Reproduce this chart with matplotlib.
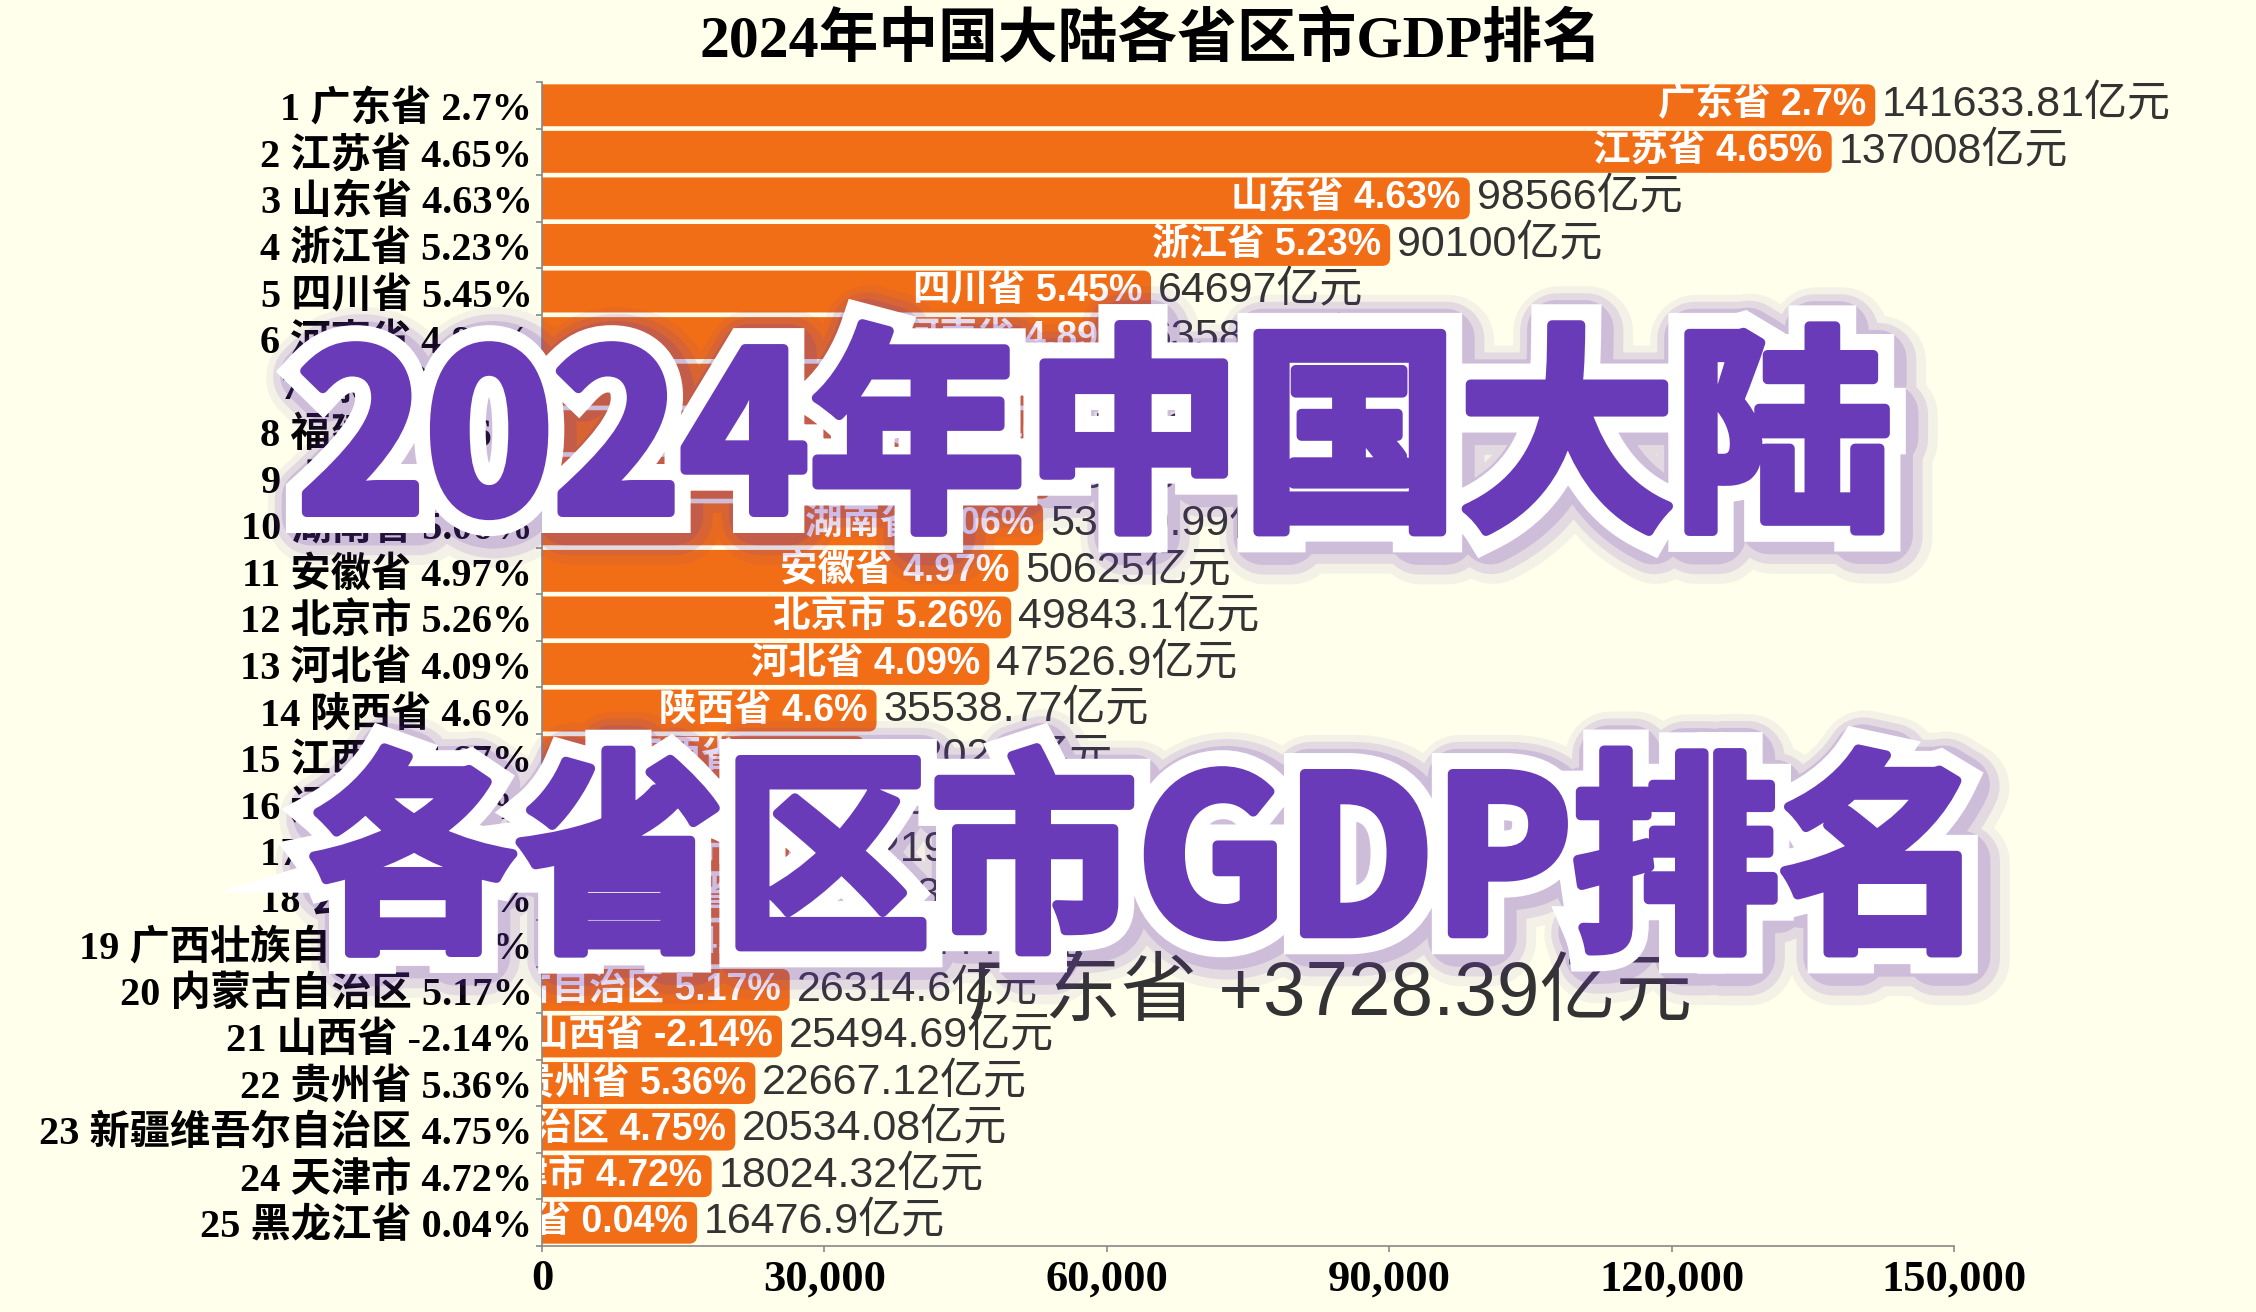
import matplotlib
matplotlib.use("Agg")
import matplotlib.pyplot as plt
import matplotlib.patheffects as pe
import matplotlib.transforms as mtransforms
from matplotlib.font_manager import FontProperties
from matplotlib.patches import FancyBboxPatch, PathPatch
from matplotlib.textpath import TextPath
from matplotlib.ticker import FuncFormatter

W, H = 2256, 1312
BG = '#FFFFEB'
ORANGE = '#F26E16'
PURPLE = '#6A3BB8'
CJK = 'Noto Sans CJK SC'

provinces = ['广东省', '江苏省', '山东省', '浙江省', '四川省', '河南省', '湖北省', '福建省',
             '上海市', '湖南省', '安徽省', '北京市', '河北省', '陕西省', '江西省', '辽宁省',
             '重庆市', '云南省', '广西壮族自治区', '内蒙古自治区', '山西省', '贵州省',
             '新疆维吾尔自治区', '天津市', '黑龙江省']
gdp = [141633.81, 137008, 98566, 90100, 64697, 63589.99, 60012.97, 57761.02,
       53926.71, 53230.99, 50625, 49843.1, 47526.9, 35538.77, 34202.5, 32612.7,
       32193.15, 31534.1, 28649.44, 26314.6, 25494.69, 22667.12, 20534.08, 18024.32, 16476.9]
growth = [2.7, 4.65, 4.63, 5.23, 5.45, 4.89, 5.6, 5.46, 5.01, 5.06, 4.97, 5.26, 4.09,
          4.6, 4.67, 4.79, 5.7, 3.8, 4.27, 5.17, -2.14, 5.36, 4.75, 4.72, 0.04]
xticks = [0, 30000, 60000, 90000, 120000, 150000]

title = '2024年中国大陆各省区市GDP排名'
change_text = '广东省 +3728.39亿元'
big_lines = ['2024年中国大陆', '各省区市GDP排名']


def num(v):
    s = f'{v}'
    if '.' in s:
        s = s.rstrip('0').rstrip('.')
    return s


fig = plt.figure(figsize=(W / 100, H / 100), dpi=100, facecolor=BG)
ax = fig.add_axes([542 / W, 1 - 1246 / H, (1954 - 542) / W, (1246 - 82) / H])
ax.set_facecolor(BG)

n = len(provinces)
rows = list(range(1, n + 1))
for i, v in zip(rows, gdp):
    bar = FancyBboxPatch((-900, i - 0.45), v + 900, 0.9,
                         boxstyle='round,pad=0,rounding_size=850',
                         mutation_aspect=0.000202, fc=ORANGE, ec='none', zorder=1)
    ax.add_patch(bar)

inner = mtransforms.offset_copy(ax.transData, fig, x=-9, y=0, units='dots')
outer = mtransforms.offset_copy(ax.transData, fig, x=7, y=0, units='dots')
for i, name, v, g in zip(rows, provinces, gdp, growth):
    ax.text(v, i, f'{name} {num(g)}%', transform=inner, ha='right', va='center',
            color='white', fontsize=27, fontweight='bold',
            family=['Liberation Sans', CJK], clip_on=True, zorder=3)
    ax.text(v, i, f'{num(v)}亿元', transform=outer, ha='left', va='center',
            color='#333333', fontsize=31, family=['Liberation Sans', CJK],
            clip_on=False, zorder=4)

ax.set_xlim(0, 150000)
ax.set_ylim(n + 0.5, 0.5)
ax.set_xticks(xticks)
ax.xaxis.set_major_formatter(FuncFormatter(lambda x, p: f'{int(x):,}'))
ax.set_yticks(rows)
ax.set_yticklabels([f'{r} {p} {num(g)}%' for r, p, g in zip(rows, provinces, growth)])
ax.set_yticks([r + 0.5 for r in range(0, n + 1)], minor=True)
ax.tick_params(axis='y', which='major', length=0, pad=7, labelsize=29)
ax.tick_params(axis='y', which='minor', length=4.5, color='#888888', width=1.2)
ax.tick_params(axis='x', length=4.5, color='#888888', width=1.2, pad=5, labelsize=32)
for lab in ax.get_yticklabels() + ax.get_xticklabels():
    lab.set_family(['Liberation Serif', CJK])
    lab.set_fontweight('bold')
    lab.set_color('black')
for s in ['top', 'right']:
    ax.spines[s].set_visible(False)
for s in ['left', 'bottom']:
    ax.spines[s].set_color('#888888')
    ax.spines[s].set_linewidth(1.2)

ax.text(968 / W, 1 - 995 / H, change_text, transform=fig.transFigure, ha='left',
        va='center', fontsize=55, color='#333333', family=['Liberation Sans', CJK],
        zorder=2, clip_on=False)

fig.text(1151 / W, 1 - 42 / H, title, ha='center', va='center', fontsize=43,
         fontweight='bold', family=['Liberation Serif', CJK])

# overlay with the big outlined headline, in pixel coordinates
top = fig.add_axes([0, 0, 1, 1], zorder=10)
top.set_xlim(0, W)
top.set_ylim(0, H)
top.axis('off')
top.patch.set_alpha(0)

fp = FontProperties(family=CJK, weight='bold')
boxes = [(305, 324, 1885, 532), (314, 748, 1957, 953)]
for s, (x0, y0, x1, y1) in zip(big_lines, boxes):
    tp = TextPath((0, 0), s, size=100, prop=fp)
    ext = tp.get_extents()
    tr = (mtransforms.Affine2D().translate(-ext.x0, -ext.y0)
          .scale((x1 - x0) / ext.width, (y1 - y0) / ext.height)
          .translate(x0, H - y1))
    path = tr.transform_path(tp)
    patch = PathPatch(path, fc=PURPLE, ec='none', path_effects=[
        pe.Stroke(linewidth=66, foreground=PURPLE, alpha=0.07, offset=(5, -5), joinstyle='round'),
        pe.Stroke(linewidth=54, foreground=PURPLE, alpha=0.12, offset=(4, -4), joinstyle='round'),
        pe.Stroke(linewidth=42, foreground=PURPLE, alpha=0.18, offset=(3, -3), joinstyle='round'),
        pe.Stroke(linewidth=30, foreground='white', joinstyle='miter'),
        pe.Stroke(linewidth=7, foreground=PURPLE, joinstyle='round'),
        pe.Normal(),
    ])
    top.add_patch(patch)

fig.savefig('out.png', dpi=100, facecolor=BG)
